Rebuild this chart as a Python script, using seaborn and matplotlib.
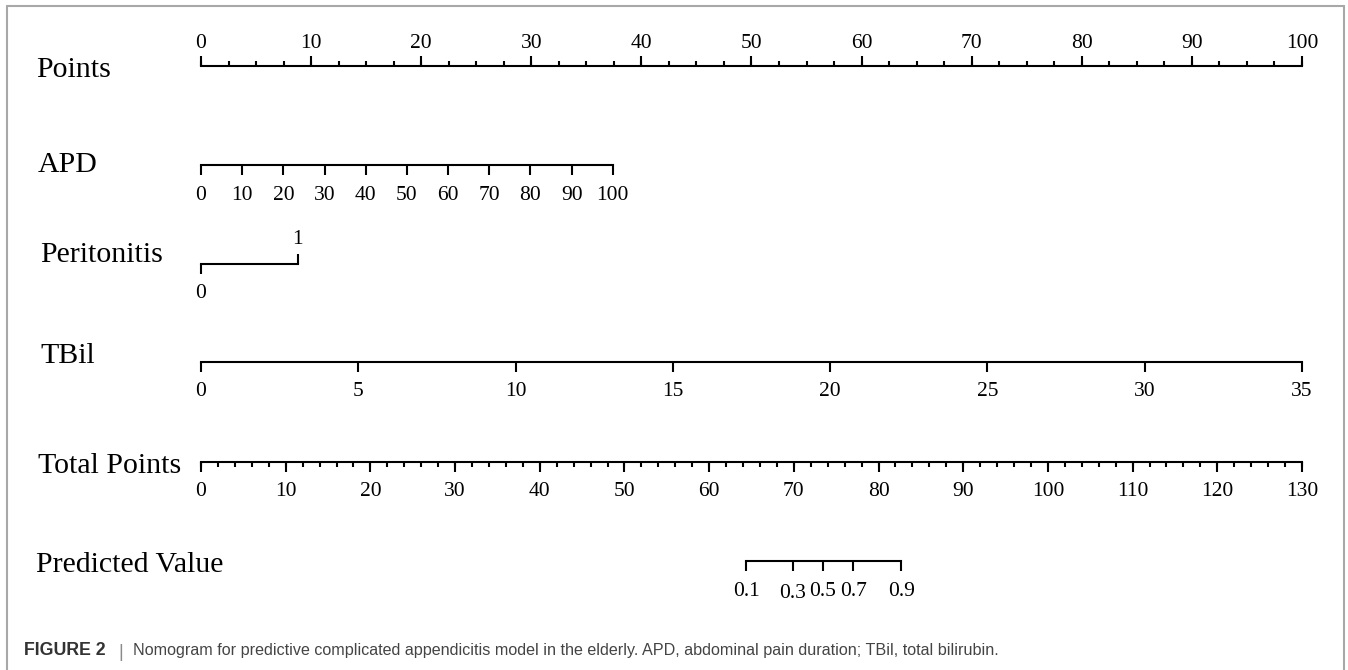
import numpy as np
import pandas as pd
import matplotlib
matplotlib.use("Agg")
import matplotlib.pyplot as plt
import seaborn as sns
from matplotlib.transforms import blended_transform_factory
from matplotlib.lines import Line2D

# ---------------- data ----------------
row_labels = ["Points", "APD", "Peritonitis", "TBil", "Total Points", "Predicted Value"]

points_ticks = list(range(0, 101, 10))
points_minor = [x / 2 for x in range(0, 201, 5)]          # every 2.5 points

apd_ticks = list(range(0, 101, 10))
apd_max_value = 100
apd_points_at_max = 37.4

peritonitis_levels = [0, 1]
peritonitis_points = [0.0, 8.8]

tbil_ticks = list(range(0, 36, 5))
tbil_max_value = 35
tbil_points_at_max = 100.0

total_ticks = list(range(0, 131, 10))
total_minor = list(range(0, 131, 2))
total_max = 130

pred_values = [0.1, 0.3, 0.5, 0.7, 0.9]
pred_total_points = [64.4, 69.9, 73.4, 77.0, 82.7]

caption_bold = "FIGURE 2"
caption_rest = ("Nomogram for predictive complicated appendicitis model in the elderly. "
                "APD, abdominal pain duration; TBil, total bilirubin.")

# ---------------- style ----------------
sns.set_theme(style="white")
plt.rcParams["font.family"] = ["Liberation Serif", "DejaVu Serif"]

W, H, DPI = 1348, 670, 100
fig = plt.figure(figsize=(W / DPI, H / DPI), dpi=DPI)
ax = fig.add_axes([0, 0, 1, 1])
ax.set_axis_off()

# x data = nomogram points; pixel calibration 0 -> 201 px, 100 -> 1302 px
x0_px, x100_px = 201, 1302
ppp = (x100_px - x0_px) / 100.0
ax.set_xlim(-x0_px / ppp, (W - x0_px) / ppp)
ax.set_ylim(H, 0)  # y data in pixel rows

row_y = [66, 165, 264, 362, 462, 561]
label_base = [77, 172, 262, 363, 473, 572]
label_x = [36, 38, 40, 40, 38, 36]

LW = 1.5
major_len, minor_len = 10, 5
tick_fs = 15.5
label_fs = 21.5

def axis_line(x_start, x_end, y):
    df = pd.DataFrame({"x": [x_start, x_end], "y": [y, y]})
    sns.lineplot(data=df, x="x", y="y", ax=ax, color="black", lw=LW,
                 estimator=None, legend=False, solid_capstyle="projecting")

def ticks(xs, y, length, up):
    y2 = y - length if up else y + length
    ax.vlines(xs, y, y2, color="black", lw=LW)

def tlabels(xs, texts, y, above, dy=None):
    off = 25 if above else 30
    for i, (x, t) in enumerate(zip(xs, texts)):
        extra = dy[i] if dy else 0
        ax.text(x, (y - off if above else y + off) + extra, t, ha="center",
                va="center", fontsize=tick_fs, color="black")

# Points
y = row_y[0]
axis_line(0, 100, y)
ticks(points_minor, y, minor_len, up=True)
ticks(points_ticks, y, major_len, up=True)
tlabels(points_ticks, [str(v) for v in points_ticks], y, above=True, dy=[2] * len(points_ticks))

# APD
y = row_y[1]
apd_x = [v / apd_max_value * apd_points_at_max for v in apd_ticks]
axis_line(apd_x[0], apd_x[-1], y)
ticks(apd_x, y, major_len, up=False)
tlabels(apd_x, [str(v) for v in apd_ticks], y, above=False)

# Peritonitis
y = row_y[2]
axis_line(peritonitis_points[0], peritonitis_points[1], y)
ticks([peritonitis_points[0]], y, major_len, up=False)
ticks([peritonitis_points[1]], y, major_len, up=True)
tlabels([peritonitis_points[0]], [str(peritonitis_levels[0])], y, above=False)
tlabels([peritonitis_points[1]], [str(peritonitis_levels[1])], y, above=True)

# TBil
y = row_y[3]
tb_x = [v / tbil_max_value * tbil_points_at_max for v in tbil_ticks]
axis_line(tb_x[0], tb_x[-1], y)
ticks(tb_x, y, major_len, up=False)
tlabels(tb_x, [str(v) for v in tbil_ticks], y, above=False)

# Total Points
y = row_y[4]
tp = lambda v: v / total_max * 100.0
axis_line(0, 100, y)
ticks([tp(v) for v in total_minor], y, minor_len, up=False)
ticks([tp(v) for v in total_ticks], y, major_len, up=False)
tlabels([tp(v) for v in total_ticks], [str(v) for v in total_ticks], y, above=False)

# Predicted Value
y = row_y[5]
pv_x = [tp(v) for v in pred_total_points]
axis_line(pv_x[0], pv_x[-1], y)
ticks(pv_x, y, major_len, up=False)
tlabels(pv_x, [f"{v:.1f}" for v in pred_values], y, above=False,
        dy=[1, 3, 0, 0, 1])

# Row labels
tr = blended_transform_factory(fig.transFigure, ax.transData)
for lab, xb, yb in zip(row_labels, label_x, label_base):
    ax.text(xb / W, yb, lab, transform=tr, ha="left", va="baseline",
            fontsize=label_fs, color="black")

# Frame (light gray, open at bottom)
fc = "#a8a8a8"
fig.add_artist(Line2D([7 / W, 7 / W], [0, 1 - 6 / H], transform=fig.transFigure, color=fc, lw=1.5))
fig.add_artist(Line2D([1344 / W, 1344 / W], [0, 1 - 6 / H], transform=fig.transFigure, color=fc, lw=1.5))
fig.add_artist(Line2D([7 / W, 1344 / W], [1 - 6 / H, 1 - 6 / H], transform=fig.transFigure, color=fc, lw=1.5))

# Caption (three pieces on one baseline)
cap_y = 1 - 655 / H
fig.text(24 / W, cap_y, caption_bold, family="Liberation Sans", weight="bold",
         fontsize=12.8, color="#333333", va="baseline", ha="left")
fig.text(118 / W, cap_y - 2 / H, "|", family="Liberation Sans", fontsize=13,
         color="#8a8a8a", va="baseline", ha="left")
fig.text(133 / W, cap_y, caption_rest, family="Liberation Sans", fontsize=11.65,
         color="#444444", va="baseline", ha="left")

fig.savefig("out.png", dpi=DPI)
